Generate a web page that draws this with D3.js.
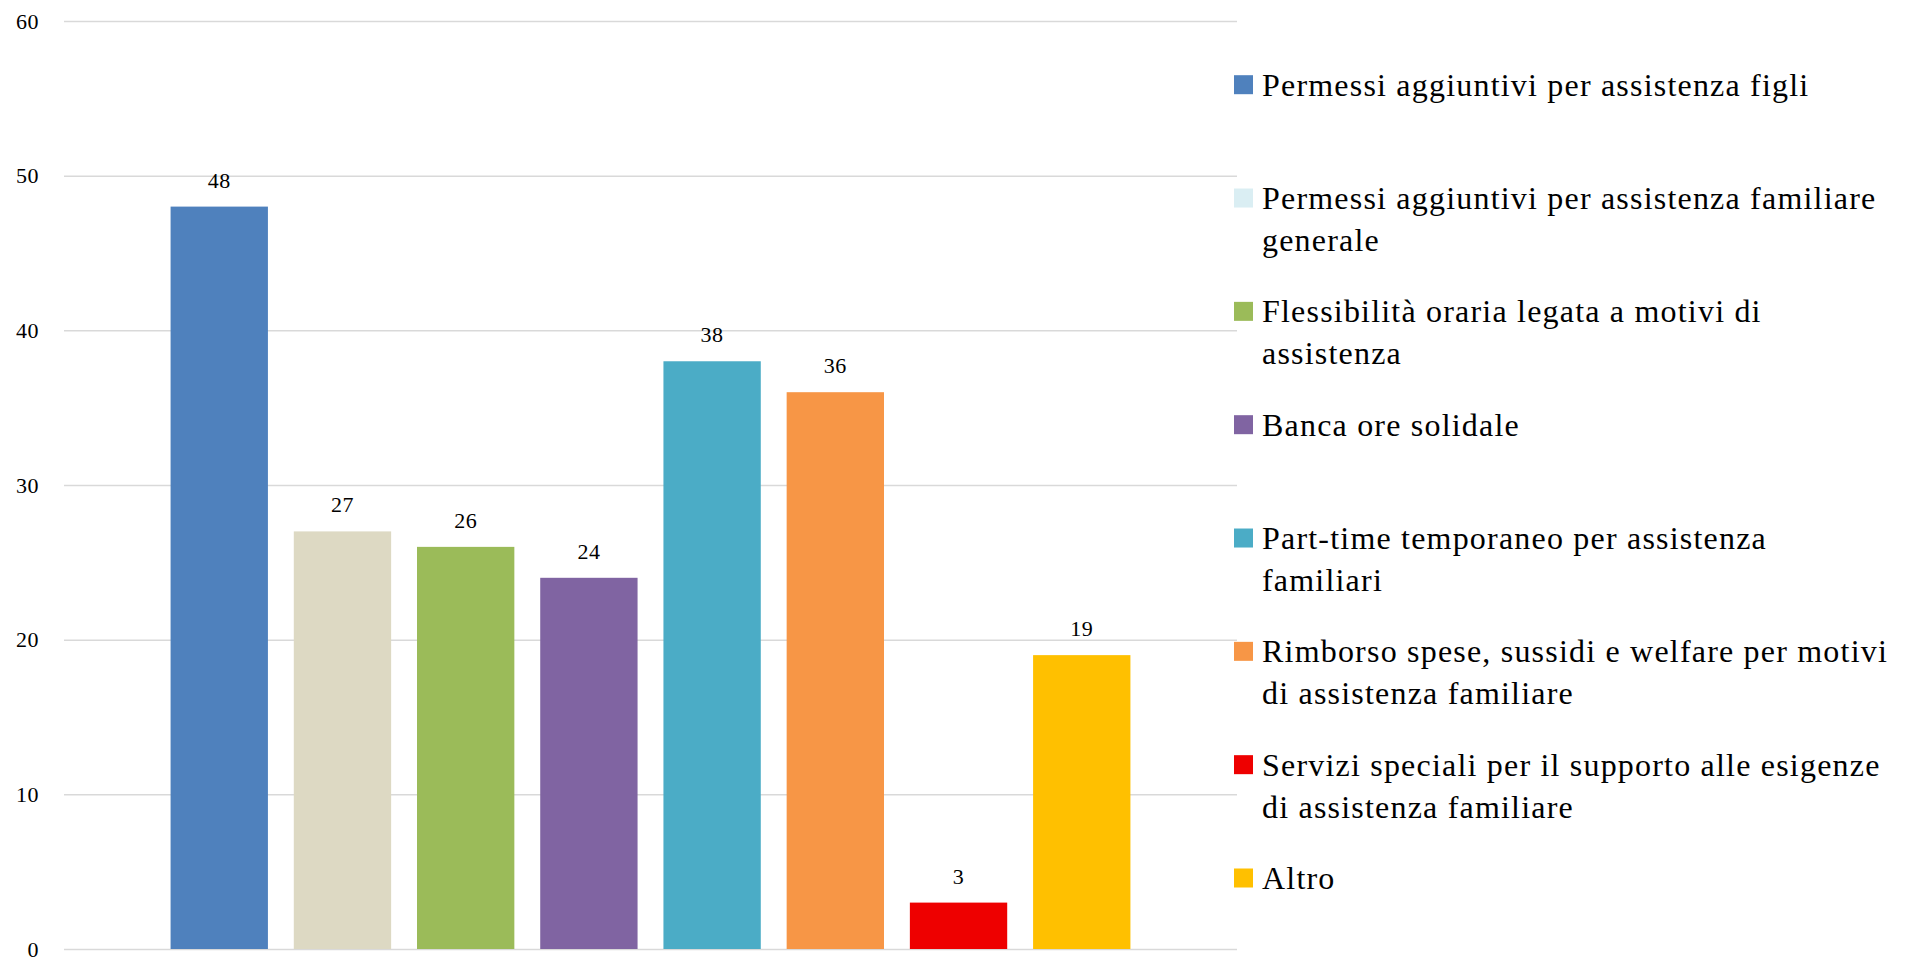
<!DOCTYPE html>
<html>
<head>
<meta charset="utf-8">
<script src="https://cdn.jsdelivr.net/npm/d3@7"></script>
<style>
  body { margin: 0; background: #fff; }
  text { font-family: "Liberation Serif", "DejaVu Serif", serif; fill: #000; }
</style>
</head>
<body>
<div class="diagram"></div>
<script>
// categories (legend text, "\n" = line break as in the original)
const categories = [
  "Permessi aggiuntivi per assistenza figli",
  "Permessi aggiuntivi per assistenza familiare\ngenerale",
  "Flessibilità oraria legata a motivi di\nassistenza",
  "Banca ore solidale",
  "Part-time temporaneo per assistenza\nfamiliari",
  "Rimborso spese, sussidi e welfare per motivi\ndi assistenza familiare",
  "Servizi speciali per il supporto alle esigenze\ndi assistenza familiare",
  "Altro"
];
const values = [48, 27, 26, 24, 38, 36, 3, 19];
const barColors = ["#4F81BD", "#DDD9C3", "#9BBB59", "#8064A2", "#4BACC6", "#F79646", "#EE0000", "#FFC000"];
const legendColors = ["#4F81BD", "#DAEEF3", "#9BBB59", "#8064A2", "#4BACC6", "#F79646", "#EE0000", "#FFC000"];
const yTicks = [0, 10, 20, 30, 40, 50, 60];

const W = 1914, H = 957;
const plot = {left: 64, right: 1237, top: 21, bottom: 949};

const svg = d3.select(".diagram")
  .append("svg")
    .attr("width", W)
    .attr("height", H);

// scales
const x = d3.scaleBand()
  .domain(categories)
  .range([plot.left, plot.right])
  .paddingInner(0.21)
  .paddingOuter(0.865);

const y = d3.scaleLinear()
  .domain([0, 60])
  .range([plot.bottom, plot.top]);

// Y axis with gridlines
const yAxis = svg.append("g")
  .attr("transform", `translate(${plot.left}, 0)`)
  .call(d3.axisLeft(y)
    .tickValues(yTicks)
    .tickSize(-(plot.right - plot.left))
    .tickPadding(25));
yAxis.select(".domain").remove();
yAxis.selectAll(".tick line")
  .attr("stroke", "#d9d9d9")
  .attr("stroke-width", 1.5);
yAxis.selectAll(".tick text")
  .attr("font-family", "Liberation Serif")
  .style("font-size", "22px")
  .style("letter-spacing", "0.5px")
  .attr("fill", "#000");

// bars
svg.append("g")
  .selectAll("rect")
  .data(values)
  .join("rect")
    .attr("x", (d, i) => x(categories[i]))
    .attr("y", d => y(d))
    .attr("width", x.bandwidth())
    .attr("height", d => y(0) - y(d))
    .attr("fill", (d, i) => barColors[i]);

// value labels
svg.append("g")
  .selectAll("text")
  .data(values)
  .join("text")
    .attr("x", (d, i) => x(categories[i]) + x.bandwidth() / 2)
    .attr("y", d => y(d) - 19)
    .attr("text-anchor", "middle")
    .style("font-size", "22px")
    .style("letter-spacing", "0.5px")
    .text(d => d);

// legend
const legendY = d3.scalePoint()
  .domain(categories)
  .range([84.7, 878]);

const legend = svg.append("g")
  .selectAll("g")
  .data(categories)
  .join("g")
    .attr("transform", d => `translate(1234, ${legendY(d)})`);

legend.append("rect")
  .attr("x", 0)
  .attr("y", -9.5)
  .attr("width", 19)
  .attr("height", 19)
  .attr("fill", (d, i) => legendColors[i]);

legend.append("text")
  .attr("x", 28)
  .attr("y", 11)
  .style("font-size", "32px")
  .style("letter-spacing", "1.2px")
  .selectAll("tspan")
  .data(d => d.split("\n"))
  .join("tspan")
    .attr("x", 28)
    .attr("dy", (d, i) => i === 0 ? 0 : 42)
    .text(d => d);
</script>
</body>
</html>
